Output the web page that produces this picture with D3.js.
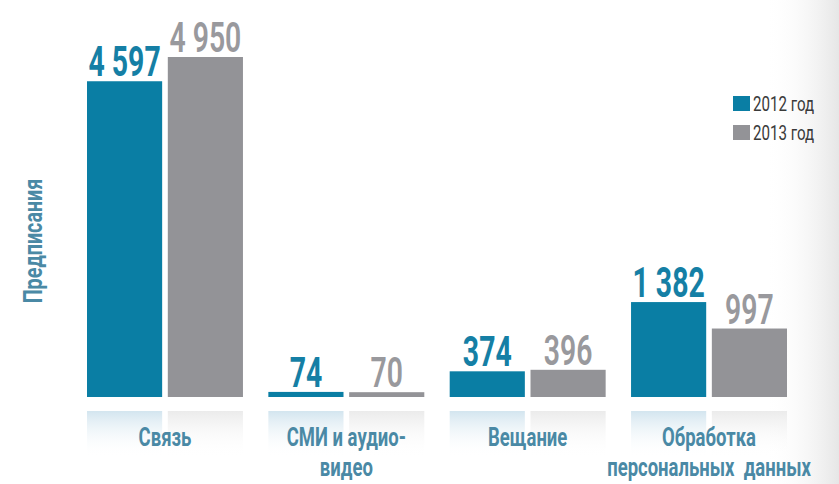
<!DOCTYPE html>
<html>
<head>
<meta charset="utf-8">
<script src="https://cdn.jsdelivr.net/npm/d3@7/dist/d3.min.js"></script>
<style>
  html, body { margin: 0; padding: 0; background: #fff; }
  svg { display: block; }
  text { font-family: Roboto, "DejaVu Sans Condensed", sans-serif; }
</style>
</head>
<body>
<svg id="chart" width="839" height="484"></svg>
<script>
// ---- data ----
const categories = ["Связь", "СМИ и аудио-\nвидео", "Вещание", "Обработка\nперсональных  данных"];
const seriesNames = ["2012 год", "2013 год"];
const values2012 = [4597, 74, 374, 1382];
const values2013 = [4950, 70, 396, 997];
const valueLabels2012 = ["4 597", "74", "374", "1 382"];
const valueLabels2013 = ["4 950", "70", "396", "997"];
const axisTitle = "Предписания";

// ---- style ----
const W = 839, H = 484;
const colors = ["#0a7ea4", "#939397"];
const labelColors = ["#157fa5", "#99999d"];
const boxColors = ["#d3e5ef", "#ebebeb"];
const catColor = "#4a89a5";

const svg = d3.select("#chart");
const defs = svg.append("defs");

// right-edge shading
const rg = defs.append("linearGradient").attr("id", "edge").attr("x1", 0).attr("x2", 1).attr("y1", 0).attr("y2", 0);
rg.append("stop").attr("offset", 0).attr("stop-color", "#ffffff").attr("stop-opacity", 0);
rg.append("stop").attr("offset", 1).attr("stop-color", "#e6e6e6").attr("stop-opacity", 1);
svg.append("rect").attr("x", 765).attr("y", 0).attr("width", W - 765).attr("height", H).attr("fill", "url(#edge)");

boxColors.forEach((c, i) => {
  const g = defs.append("linearGradient").attr("id", "box" + i).attr("x1", 0).attr("x2", 0).attr("y1", 0).attr("y2", 1);
  g.append("stop").attr("offset", 0).attr("stop-color", c);
  g.append("stop").attr("offset", 1).attr("stop-color", "#ffffff").attr("stop-opacity", 0);
});

const baseline = 397;
const x0 = d3.scaleBand().domain(categories).range([87, 787]).paddingInner(0.14).paddingOuter(0);
const x1 = d3.scaleBand().domain(seriesNames).range([0, x0.bandwidth()]).paddingInner(0.07);
const y = d3.scaleLinear().domain([0, 4950]).range([baseline, 57]);

const rows = categories.map((c, i) => ({
  cat: c,
  vals: [
    { s: seriesNames[0], v: values2012[i], lab: valueLabels2012[i], k: 0 },
    { s: seriesNames[1], v: values2013[i], lab: valueLabels2013[i], k: 1 }
  ]
}));

const groups = svg.selectAll("g.grp").data(rows).join("g")
  .attr("class", "grp")
  .attr("transform", d => `translate(${x0(d.cat)},0)`);

// gradient boxes under bars
groups.selectAll("rect.box").data(d => d.vals).join("rect")
  .attr("class", "box")
  .attr("x", d => x1(d.s))
  .attr("width", x1.bandwidth())
  .attr("y", 411)
  .attr("height", 46)
  .attr("fill", d => `url(#box${d.k})`);

// bars
groups.selectAll("rect.bar").data(d => d.vals).join("rect")
  .attr("class", "bar")
  .attr("x", d => x1(d.s))
  .attr("width", x1.bandwidth())
  .attr("y", d => y(d.v))
  .attr("height", d => baseline - y(d.v))
  .attr("fill", d => colors[d.k]);

// value labels
groups.selectAll("text.val").data(d => d.vals).join("text")
  .attr("class", "val")
  .attr("transform", d => `translate(${x1(d.s) + x1.bandwidth() / 2},${y(d.v) - 5}) scale(0.66,1)`)
  .attr("text-anchor", "middle")
  .attr("font-size", 43)
  .attr("font-weight", d => d.k === 0 ? 700 : 600)
  .attr("fill", d => labelColors[d.k])
  .text(d => d.lab);

// category labels (one text per line)
groups.each(function(d) {
  const lines = d.cat.split("\n");
  const cx = x0.bandwidth() / 2;
  lines.forEach((ln, j) => {
    d3.select(this).append("text")
      .attr("transform", `translate(${cx},${446 + j * 30}) scale(0.74,1)`)
      .attr("text-anchor", "middle")
      .attr("font-size", 25)
      .attr("font-weight", 700)
      .attr("fill", catColor)
      .style("white-space", "pre")
      .text(ln);
  });
});

// axis title
svg.append("text")
  .attr("transform", `translate(42,241) rotate(-90) scale(0.76,1)`)
  .attr("text-anchor", "middle")
  .attr("font-size", 26)
  .attr("font-weight", 700)
  .attr("fill", catColor)
  .text(axisTitle);

// legend
const legend = svg.append("g").attr("transform", "translate(733,96)");
seriesNames.forEach((s, i) => {
  const g = legend.append("g").attr("transform", `translate(0,${i * 29})`);
  g.append("rect").attr("width", 17).attr("height", 15).attr("fill", colors[i]);
  g.append("text")
    .attr("transform", `translate(20,15) scale(0.72,1)`)
    .attr("font-size", 21)
    .attr("font-weight", 400)
    .attr("fill", "#3a3a3a")
    .text(s);
});
</script>
</body>
</html>
